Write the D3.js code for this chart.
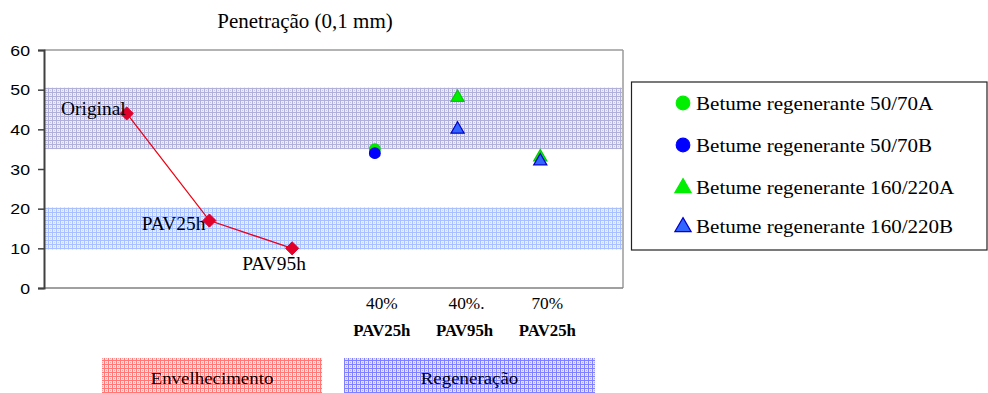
<!DOCTYPE html>
<html><head><meta charset="utf-8">
<script src="https://cdn.jsdelivr.net/npm/d3@7"></script>
<style>html,body{margin:0;padding:0;background:#fff;}svg{display:block;}</style>
</head><body>
<svg id="chart" width="988" height="393"></svg>
<script>
// ---- data ----
const chartTitle = "Penetração (0,1 mm)";
const yTicks = [0, 10, 20, 30, 40, 50, 60];
const agingLabels = ["Original", "PAV25h", "PAV95h"];
const agingValues = [44, 17, 10];
const regenTopLabels = ["40%", "40%.", "70%"];
const regenBottomLabels = ["PAV25h", "PAV95h", "PAV25h"];
const series5070A = [35, null, null];
const series5070B = [34, null, null];
const series160A = [null, 48, 33];
const series160B = [null, 40, 32];
const upperBand = [35, 50.5];
const lowerBand = [9.7, 20.3];
const legendNames = ["Betume regenerante 50/70A", "Betume regenerante 50/70B", "Betume regenerante 160/220A", "Betume regenerante 160/220B"];
const groupNames = ["Envelhecimento", "Regeneração"];

const SERIF = "'Liberation Serif', 'Times New Roman', serif";
const SANS = "'Liberation Sans', Arial, sans-serif";

const svg = d3.select("#chart");
const defs = svg.append("defs");
function pat(id, bg, fg, fg2) {
  const p = defs.append("pattern").attr("id", id).attr("patternUnits", "userSpaceOnUse").attr("width", 4).attr("height", 4);
  p.append("rect").attr("width", 4).attr("height", 4).attr("fill", bg);
  p.append("rect").attr("x", 0).attr("y", 0).attr("width", 4).attr("height", 1).attr("fill", fg);
  p.append("rect").attr("x", 0).attr("y", 0).attr("width", 1).attr("height", 4).attr("fill", fg);
  p.append("rect").attr("x", 2).attr("y", 2).attr("width", 1).attr("height", 1).attr("fill", fg2);
}
pat("pUpper", "#ececf6", "#b0b0da", "#c4c4e4");
pat("pLower", "#e6eeff", "#a8c0ff", "#c4d4ff");
pat("pRed", "#fde2e2", "#ff7878", "#ffa0a0");
pat("pBlue", "#e2e2ff", "#8080ff", "#a8a8ff");

const x = d3.scaleLinear().domain([0, 7]).range([44, 623]);
const y = d3.scaleLinear().domain([0, 60]).range([288, 50]);

function txt(parent, px, py, s, o) {
  const g = parent.append("g").attr("transform", `translate(${px},${py}) scale(${o.sx || 1},1)`);
  return g.append("text").attr("text-anchor", o.anchor || "start")
    .style("font-family", o.family || SERIF)
    .attr("font-size", o.size).attr("font-weight", o.weight || "normal")
    .attr("fill", o.fill || "#000").text(s);
}

// bands
svg.append("rect").attr("x", x(0)).attr("y", y(upperBand[1])).attr("width", x(7) - x(0) - 1)
  .attr("height", y(upperBand[0]) - y(upperBand[1])).attr("fill", "url(#pUpper)");
svg.append("rect").attr("x", x(0)).attr("y", y(lowerBand[1])).attr("width", x(7) - x(0) - 1)
  .attr("height", y(lowerBand[0]) - y(lowerBand[1])).attr("fill", "url(#pLower)");

// frame
svg.append("line").attr("x1", x(0)).attr("x2", x(7)).attr("y1", y(60)).attr("y2", y(60)).attr("stroke", "#9a9a9a").attr("stroke-width", 1.5);
svg.append("line").attr("x1", x(7)).attr("x2", x(7)).attr("y1", y(60)).attr("y2", y(0)).attr("stroke", "#9a9a9a").attr("stroke-width", 1.5);
svg.append("line").attr("x1", x(0)).attr("x2", x(7)).attr("y1", y(0)).attr("y2", y(0)).attr("stroke", "#808080").attr("stroke-width", 1.5);

// y axis
const yAxis = svg.append("g").attr("transform", `translate(${x(0)},0)`)
  .call(d3.axisLeft(y).tickValues(yTicks).tickSize(6).tickFormat(d3.format("d")));
yAxis.select(".domain").attr("stroke", "#404040").attr("stroke-width", 2);
yAxis.selectAll(".tick line").attr("stroke", "#404040").attr("stroke-width", 1.5);
yAxis.selectAll(".tick text").remove();
yTicks.forEach(t => txt(svg, 30, y(t) + 5.5, String(t), {size: 15, family: SANS, anchor: "end", sx: 1.18}));

// aging line
const agingPts = agingValues.map((v, i) => [x(i + 1), y(v)]);
svg.append("path").attr("d", d3.line()(agingPts)).attr("fill", "none").attr("stroke", "#f00010").attr("stroke-width", 1.3);
svg.selectAll(".dia").data(agingPts).join("path").attr("class", "dia")
  .attr("transform", d => `translate(${d[0]},${d[1]})`)
  .attr("d", d3.symbol(d3.symbolDiamond2, 110)).attr("fill", "#e0002a").attr("stroke", "#e0002a");

// aging labels
const agingLabelOffsets = [[-1, 1.5, "end"], [-4, 9, "end"], [-18, 22, "middle"]];
agingLabels.forEach((s, i) => {
  const o = agingLabelOffsets[i];
  txt(svg, agingPts[i][0] + o[0], agingPts[i][1] + o[1], s, {size: 18.5, anchor: o[2], sx: 1.05});
});

// regeneration markers
function drawSeries(data, type, fill, stroke, size) {
  data.forEach((v, i) => {
    if (v == null) return;
    svg.append("path").attr("transform", `translate(${x(i + 4)},${y(v)})`)
      .attr("d", d3.symbol(type, size)).attr("fill", fill).attr("stroke", stroke).attr("stroke-width", 1.2);
  });
}
drawSeries(series5070A, d3.symbolCircle, "#00ee00", "#00dd00", 90);
drawSeries(series5070B, d3.symbolCircle, "#0000ff", "#0000ee", 90);
drawSeries(series160A, d3.symbolTriangle, "#00ee00", "#00cc00", 75);
drawSeries(series160B, d3.symbolTriangle, "#3366ff", "#0000cc", 75);

// category labels
regenTopLabels.forEach((s, i) => {
  const lx = x(i + 4) + 7;
  txt(svg, lx - (s.endsWith(".") ? -2 : 0), 309, s, {size: 16, anchor: "middle", sx: 1.08});
  txt(svg, lx, 336, regenBottomLabels[i], {size: 16, anchor: "middle", weight: "bold", sx: 1.05});
});

// title
txt(svg, 305, 28, chartTitle, {size: 20, anchor: "middle", sx: 1.05});

// legend
svg.append("rect").attr("x", 631.5).attr("y", 82).attr("width", 355.5).attr("height", 168).attr("fill", "#fff").attr("stroke", "#222").attr("stroke-width", 1.2);
const legendY = [103, 145, 187, 226];
const legendSym = [
  [d3.symbolCircle, "#00ee00", "#00ee00", 145],
  [d3.symbolCircle, "#0000ff", "#0000ff", 145],
  [d3.symbolTriangle, "#00ee00", "#00ee00", 115],
  [d3.symbolTriangle, "#3366ff", "#0000cc", 115]
];
legendNames.forEach((s, i) => {
  const m = legendSym[i];
  svg.append("path").attr("transform", `translate(683,${legendY[i] + (m[0] === d3.symbolTriangle ? 1 : 0)})`)
    .attr("d", d3.symbol(m[0], m[3])).attr("fill", m[1]).attr("stroke", m[2]).attr("stroke-width", 1.2);
  txt(svg, 696, legendY[i] + 6.5, s, {size: 19.5, sx: 1.08});
});

// group boxes
const boxes = [[102, 322, "url(#pRed)"], [344, 595, "url(#pBlue)"]];
groupNames.forEach((s, i) => {
  const b = boxes[i];
  svg.append("rect").attr("x", b[0]).attr("y", 358).attr("width", b[1] - b[0]).attr("height", 35).attr("fill", b[2]);
  txt(svg, (b[0] + b[1]) / 2, 384, s, {size: 17.5, anchor: "middle", sx: 1.08});
});
</script>
</body></html>
